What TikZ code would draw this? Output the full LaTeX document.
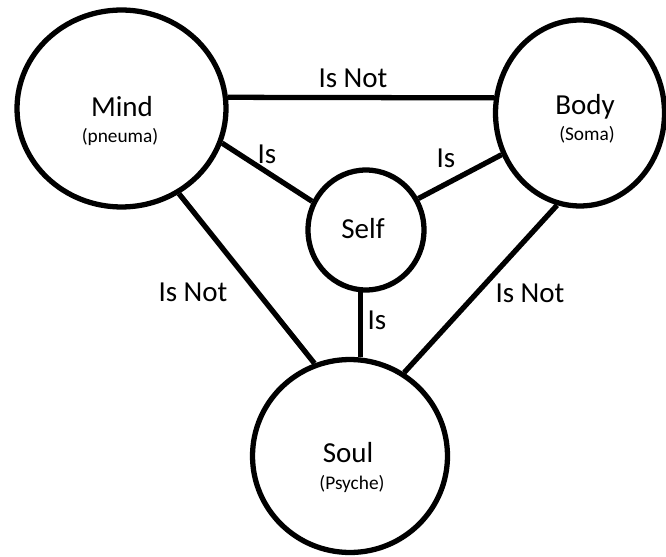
\documentclass[tikz,border=0pt]{standalone}
\usepackage{fontspec}
\setmainfont{Carlito}
\usetikzlibrary{shapes.geometric}

\begin{document}
\begin{tikzpicture}[x=0.02cm, y=-0.02cm,
  ring/.style 2 args={ellipse, draw, line width=3pt, minimum width=#1,
                      minimum height=#2, inner sep=0pt},
  big/.style={font=\fontsize{16.5}{19}\selectfont, inner sep=0pt},
  sub/.style={font=\fontsize{11}{13}\selectfont, inner sep=0pt},
  link/.style={line width=3pt}]

\path[fill=white, use as bounding box] (0,0) rectangle (666,557);

% the four circles
\node[ring={4.18cm}{3.94cm}] (mind) at (121.5, 108.5) {};
\node[ring={3.38cm}{3.72cm}] (body) at (580, 113) {};
\node[ring={2.32cm}{2.40cm}] (self) at (366, 230) {};
\node[ring={3.90cm}{3.86cm}] (soul) at (350, 456) {};

% names inside
\node[big] (mindname) at (122, 107) {Mind};
\node[sub] (mindsub) at (120, 137) {(pneuma)};
\node[big] (bodyname) at (585, 107) {Body};
\node[sub] (bodysub) at (587, 135) {(Soma)};
\node[big] (selfname) at (363, 229) {Self};
\node[big] (soulname) at (348, 453) {Soul};
\node[sub] (soulsub) at (352, 484) {(Psyche)};

% connectors
\draw[link] (mind.6) -- (body.170);
\draw[link] (mind.-19) -- (self.152);
\draw[link] (body.208) -- (self.31);
\draw[link] (mind.-56) -- (soul.111);
\draw[link] (self.265) -- (self.265 |- soul.north);
\draw[link] (body.256) -- (soul.57);

% labels
\node[big] (lmb) at (353, 78) {Is Not};
\node[big] (lms) at (267, 154) {Is};
\node[big] (lbs) at (446, 158) {Is};
\node[big] (lmo) at (193, 292) {Is Not};
\node[big] (lso) at (377, 320) {Is};
\node[big] (lbo) at (530, 293) {Is Not};

\end{tikzpicture}
\end{document}
